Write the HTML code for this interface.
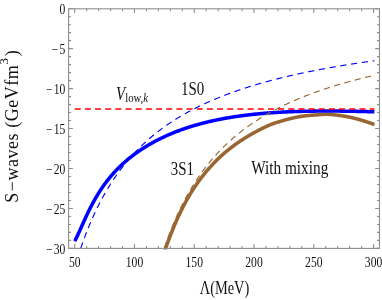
<!DOCTYPE html>
<html><head><meta charset="utf-8"><title>S-waves</title>
<style>html,body{margin:0;padding:0;background:#fff;}body{width:382px;height:300px;overflow:hidden;position:relative;font-family:"Liberation Serif",serif;}</style>
</head><body>
<svg width="382" height="300" viewBox="0 0 382 300" style="position:absolute;left:0;top:0;will-change:transform">
<defs><clipPath id="c"><rect x="68.6" y="8.8" width="310.85" height="240.80"/></clipPath></defs>
<g fill="none" clip-path="url(#c)">
<path d="M164.00,253.02 L164.42,251.80 L164.84,250.58 L165.26,249.37 L165.69,248.18 L166.11,246.99 L166.53,245.81 L166.95,244.63 L167.37,243.47 L167.79,242.32 L168.22,241.18 L168.64,240.04 L169.06,238.92 L169.48,237.80 L169.90,236.70 L170.32,235.60 L170.75,234.51 L171.17,233.44 L171.59,232.37 L172.01,231.31 L172.43,230.26 L172.85,229.22 L173.28,228.20 L173.70,227.18 L174.12,226.17 L174.54,225.17 L174.96,224.17 L175.38,223.19 L175.80,222.22 L176.23,221.26 L176.65,220.30 L177.07,219.36 L177.49,218.42 L177.91,217.50 L178.33,216.58 L178.76,215.67 L179.18,214.77 L179.60,213.88 L180.02,213.00 L180.44,212.13 L180.86,211.26 L181.29,210.40 L181.71,209.56 L182.13,208.72 L182.55,207.88 L182.97,207.06 L183.39,206.24 L183.81,205.44 L184.24,204.64 L184.66,203.84 L185.08,203.06 L185.50,202.28 L185.92,201.51 L186.34,200.75 L186.77,199.99 L187.19,199.25 L187.61,198.50 L188.03,197.77 L188.45,197.04 L188.87,196.32 L189.30,195.61 L189.72,194.90 L190.14,194.20 L190.56,193.51 L190.98,192.82 L191.40,192.14 L191.83,191.47 L192.25,190.80 L192.67,190.14 L193.09,189.48 L193.51,188.83 L193.93,188.19 L194.35,187.55 L194.78,186.91 L195.20,186.29 L195.62,185.67 L196.04,185.05 L196.46,184.44 L196.88,183.83 L197.31,183.23 L197.73,182.64 L198.15,182.05 L198.57,181.46 L198.99,180.88 L199.41,180.31 L199.84,179.73 L200.26,179.17 L200.68,178.61 L201.10,178.05 L201.52,177.50 L201.94,176.95 L202.36,176.41 L202.79,175.87 L203.21,175.34 L203.63,174.81 L204.05,174.28 L204.47,173.76 L204.89,173.24 L205.32,172.73 L205.74,172.22 L206.16,171.71 L206.58,171.21 L207.00,170.71 L207.42,170.22 L207.85,169.73 L208.27,169.24 L208.69,168.76 L209.11,168.28 L209.53,167.80 L209.95,167.33 L210.38,166.86 L210.80,166.39 L211.22,165.93 L211.64,165.47 L212.06,165.01 L212.48,164.56 L212.90,164.11 L213.33,163.66 L213.75,163.22 L214.17,162.78 L214.59,162.34 L215.01,161.91 L215.43,161.48 L215.86,161.05 L216.28,160.63 L216.70,160.21 L217.12,159.79 L217.54,159.38 L217.96,158.97 L218.39,158.56 L218.81,158.16 L219.23,157.76 L219.65,157.36 L220.07,156.96 L220.49,156.57 L220.92,156.18 L221.34,155.80 L221.76,155.42 L222.18,155.04 L222.60,154.66 L223.02,154.29 L223.44,153.92 L223.87,153.55 L224.29,153.18 L224.71,152.82 L225.13,152.46 L225.55,152.10 L225.97,151.75 L226.40,151.40 L226.82,151.05 L227.24,150.70 L227.66,150.35 L228.08,150.01 L228.50,149.67 L228.93,149.34 L229.35,149.00 L229.77,148.67 L230.19,148.34 L230.61,148.01 L231.03,147.69 L231.45,147.36 L231.88,147.04 L232.30,146.72 L232.72,146.41 L233.14,146.09 L233.56,145.78 L233.98,145.47 L234.41,145.16 L234.83,144.85 L235.25,144.55 L235.67,144.25 L236.09,143.95 L236.51,143.65 L236.94,143.35 L237.36,143.06 L237.78,142.77 L238.20,142.48 L238.62,142.19 L239.04,141.90 L239.47,141.62 L239.89,141.33 L240.31,141.05 L240.73,140.77 L241.15,140.49 L241.57,140.22 L241.99,139.94 L242.42,139.67 L242.84,139.40 L243.26,139.13 L243.68,138.86 L244.10,138.59 L244.52,138.33 L244.95,138.07 L245.37,137.80 L245.79,137.54 L246.21,137.29 L246.63,137.03 L247.05,136.77 L247.48,136.52 L247.90,136.27 L248.32,136.02 L248.74,135.77 L249.16,135.52 L249.58,135.27 L250.01,135.02 L250.43,134.78 L250.85,134.54 L251.27,134.30 L251.69,134.05 L252.11,133.82 L252.53,133.58 L252.96,133.34 L253.38,133.11 L253.80,132.87 L254.22,132.64 L254.64,132.41 L255.06,132.18 L255.49,131.95 L255.91,131.72 L256.33,131.49 L256.75,131.27 L257.17,131.04 L257.59,130.82 L258.02,130.60 L258.44,130.38 L258.86,130.15 L259.28,129.94 L259.70,129.72 L260.12,129.50 L260.54,129.28 L260.97,129.07 L261.39,128.86 L261.81,128.65 L262.23,128.44 L262.65,128.23 L263.07,128.02 L263.50,127.82 L263.92,127.62 L264.34,127.41 L264.76,127.22 L265.18,127.02 L265.60,126.82 L266.03,126.63 L266.45,126.43 L266.87,126.24 L267.29,126.05 L267.71,125.86 L268.13,125.68 L268.56,125.49 L268.98,125.31 L269.40,125.12 L269.82,124.94 L270.24,124.76 L270.66,124.59 L271.08,124.42 L271.51,124.25 L271.93,124.09 L272.35,123.93 L272.77,123.77 L273.19,123.62 L273.61,123.47 L274.04,123.32 L274.46,123.18 L274.88,123.04 L275.30,122.90 L275.72,122.76 L276.14,122.62 L276.57,122.49 L276.99,122.36 L277.41,122.23 L277.83,122.10 L278.25,121.98 L278.67,121.85 L279.09,121.73 L279.52,121.61 L279.94,121.48 L280.36,121.36 L280.78,121.24 L281.20,121.12 L281.62,121.00 L282.05,120.88 L282.47,120.76 L282.89,120.64 L283.31,120.52 L283.73,120.40 L284.15,120.28 L284.58,120.16 L285.00,120.03 L285.42,119.91 L285.84,119.79 L286.26,119.67 L286.68,119.55 L287.11,119.44 L287.53,119.32 L287.95,119.21 L288.37,119.09 L288.79,118.98 L289.21,118.87 L289.63,118.77 L290.06,118.66 L290.48,118.56 L290.90,118.45 L291.32,118.35 L291.74,118.25 L292.16,118.15 L292.59,118.06 L293.01,117.96 L293.43,117.87 L293.85,117.78 L294.27,117.68 L294.69,117.60 L295.12,117.51 L295.54,117.42 L295.96,117.34 L296.38,117.25 L296.80,117.17 L297.22,117.09 L297.65,117.01 L298.07,116.94 L298.49,116.86 L298.91,116.79 L299.33,116.71 L299.75,116.64 L300.17,116.57 L300.60,116.50 L301.02,116.44 L301.44,116.37 L301.86,116.31 L302.28,116.25 L302.70,116.19 L303.13,116.13 L303.55,116.07 L303.97,116.01 L304.39,115.96 L304.81,115.90 L305.23,115.85 L305.66,115.80 L306.08,115.75 L306.50,115.70 L306.92,115.66 L307.34,115.61 L307.76,115.57 L308.18,115.53 L308.61,115.49 L309.03,115.45 L309.45,115.41 L309.87,115.38 L310.29,115.34 L310.71,115.31 L311.14,115.28 L311.56,115.25 L311.98,115.22 L312.40,115.19 L312.82,115.16 L313.24,115.13 L313.67,115.10 L314.09,115.07 L314.51,115.03 L314.93,115.00 L315.35,114.96 L315.77,114.93 L316.20,114.89 L316.62,114.86 L317.04,114.82 L317.46,114.78 L317.88,114.75 L318.30,114.71 L318.72,114.68 L319.15,114.64 L319.57,114.61 L319.99,114.58 L320.41,114.55 L320.83,114.52 L321.25,114.49 L321.68,114.46 L322.10,114.44 L322.52,114.41 L322.94,114.39 L323.36,114.37 L323.78,114.35 L324.21,114.34 L324.63,114.32 L325.05,114.31 L325.47,114.31 L325.89,114.30 L326.31,114.30 L326.73,114.30 L327.16,114.30 L327.58,114.31 L328.00,114.32 L328.42,114.34 L328.84,114.36 L329.26,114.38 L329.69,114.41 L330.11,114.44 L330.53,114.47 L330.95,114.51 L331.37,114.54 L331.79,114.58 L332.22,114.62 L332.64,114.65 L333.06,114.69 L333.48,114.73 L333.90,114.78 L334.32,114.82 L334.75,114.86 L335.17,114.91 L335.59,114.96 L336.01,115.00 L336.43,115.05 L336.85,115.10 L337.27,115.15 L337.70,115.21 L338.12,115.26 L338.54,115.32 L338.96,115.37 L339.38,115.43 L339.80,115.49 L340.23,115.55 L340.65,115.61 L341.07,115.67 L341.49,115.73 L341.91,115.80 L342.33,115.86 L342.76,115.93 L343.18,116.00 L343.60,116.07 L344.02,116.14 L344.44,116.21 L344.86,116.29 L345.29,116.36 L345.71,116.44 L346.13,116.51 L346.55,116.59 L346.97,116.67 L347.39,116.75 L347.81,116.83 L348.24,116.92 L348.66,117.00 L349.08,117.09 L349.50,117.18 L349.92,117.26 L350.34,117.35 L350.77,117.45 L351.19,117.54 L351.61,117.63 L352.03,117.73 L352.45,117.82 L352.87,117.92 L353.30,118.02 L353.72,118.12 L354.14,118.22 L354.56,118.33 L354.98,118.43 L355.40,118.54 L355.82,118.64 L356.25,118.75 L356.67,118.86 L357.09,118.97 L357.51,119.08 L357.93,119.20 L358.35,119.31 L358.78,119.43 L359.20,119.55 L359.62,119.67 L360.04,119.79 L360.46,119.91 L360.88,120.03 L361.31,120.16 L361.73,120.28 L362.15,120.41 L362.57,120.54 L362.99,120.67 L363.41,120.80 L363.84,120.93 L364.26,121.06 L364.68,121.19 L365.10,121.33 L365.52,121.46 L365.94,121.60 L366.36,121.74 L366.79,121.88 L367.21,122.02 L367.63,122.16 L368.05,122.30 L368.47,122.44 L368.89,122.59 L369.32,122.73 L369.74,122.88 L370.16,123.03 L370.58,123.18 L371.00,123.33 L371.42,123.48 L371.85,123.63 L372.27,123.78 L372.69,123.94 L373.11,124.09 L373.53,124.25 L373.95,124.41 L374.38,124.56" stroke="rgb(153,102,51)" stroke-width="3.55"/>
<path d="M74.70,241.09 L75.30,239.98 L75.90,238.82 L76.50,237.62 L77.10,236.39 L77.70,235.12 L78.30,233.83 L78.90,232.52 L79.50,231.19 L80.10,229.86 L80.71,228.52 L81.31,227.17 L81.91,225.83 L82.51,224.48 L83.11,223.14 L83.71,221.81 L84.31,220.48 L84.91,219.17 L85.51,217.86 L86.11,216.57 L86.71,215.29 L87.31,214.02 L87.91,212.77 L88.51,211.53 L89.11,210.31 L89.71,209.10 L90.31,207.91 L90.91,206.73 L91.52,205.58 L92.12,204.43 L92.72,203.31 L93.32,202.20 L93.92,201.11 L94.52,200.03 L95.12,198.97 L95.72,197.93 L96.32,196.90 L96.92,195.89 L97.52,194.89 L98.12,193.91 L98.72,192.94 L99.32,191.99 L99.92,191.05 L100.52,190.13 L101.12,189.22 L101.72,188.33 L102.33,187.45 L102.93,186.58 L103.53,185.73 L104.13,184.89 L104.73,184.06 L105.33,183.24 L105.93,182.44 L106.53,181.65 L107.13,180.86 L107.73,180.10 L108.33,179.34 L108.93,178.59 L109.53,177.85 L110.13,177.13 L110.73,176.41 L111.33,175.70 L111.93,175.01 L112.53,174.32 L113.14,173.64 L113.74,172.97 L114.34,172.31 L114.94,171.66 L115.54,171.02 L116.14,170.39 L116.74,169.76 L117.34,169.14 L117.94,168.53 L118.54,167.93 L119.14,167.33 L119.74,166.75 L120.34,166.17 L120.94,165.59 L121.54,165.03 L122.14,164.47 L122.74,163.91 L123.34,163.37 L123.95,162.83 L124.55,162.29 L125.15,161.76 L125.75,161.24 L126.35,160.73 L126.95,160.22 L127.55,159.71 L128.15,159.21 L128.75,158.72 L129.35,158.23 L129.95,157.75 L130.55,157.27 L131.15,156.80 L131.75,156.33 L132.35,155.87 L132.95,155.41 L133.55,154.95 L134.15,154.51 L134.76,154.06 L135.36,153.62 L135.96,153.19 L136.56,152.76 L137.16,152.33 L137.76,151.91 L138.36,151.49 L138.96,151.08 L139.56,150.67 L140.16,150.26 L140.76,149.86 L141.36,149.46 L141.96,149.07 L142.56,148.68 L143.16,148.29 L143.76,147.91 L144.36,147.53 L144.96,147.15 L145.57,146.78 L146.17,146.41 L146.77,146.05 L147.37,145.69 L147.97,145.33 L148.57,144.97 L149.17,144.62 L149.77,144.27 L150.37,143.93 L150.97,143.59 L151.57,143.25 L152.17,142.91 L152.77,142.58 L153.37,142.25 L153.97,141.92 L154.57,141.60 L155.17,141.28 L155.77,140.96 L156.37,140.65 L156.98,140.33 L157.58,140.02 L158.18,139.72 L158.78,139.41 L159.38,139.11 L159.98,138.81 L160.58,138.52 L161.18,138.23 L161.78,137.93 L162.38,137.65 L162.98,137.36 L163.58,137.08 L164.18,136.80 L164.78,136.52 L165.38,136.25 L165.98,135.97 L166.58,135.70 L167.18,135.43 L167.79,135.17 L168.39,134.90 L168.99,134.64 L169.59,134.39 L170.19,134.13 L170.79,133.87 L171.39,133.62 L171.99,133.37 L172.59,133.13 L173.19,132.88 L173.79,132.64 L174.39,132.40 L174.99,132.16 L175.59,131.92 L176.19,131.69 L176.79,131.45 L177.39,131.22 L177.99,131.00 L178.60,130.77 L179.20,130.54 L179.80,130.32 L180.40,130.10 L181.00,129.88 L181.60,129.67 L182.20,129.45 L182.80,129.24 L183.40,129.03 L184.00,128.82 L184.60,128.61 L185.20,128.41 L185.80,128.21 L186.40,128.01 L187.00,127.81 L187.60,127.61 L188.20,127.41 L188.80,127.22 L189.41,127.03 L190.01,126.84 L190.61,126.65 L191.21,126.46 L191.81,126.27 L192.41,126.09 L193.01,125.91 L193.61,125.73 L194.21,125.55 L194.81,125.37 L195.41,125.20 L196.01,125.02 L196.61,124.85 L197.21,124.68 L197.81,124.51 L198.41,124.34 L199.01,124.18 L199.61,124.01 L200.22,123.85 L200.82,123.69 L201.42,123.53 L202.02,123.37 L202.62,123.21 L203.22,123.06 L203.82,122.91 L204.42,122.75 L205.02,122.60 L205.62,122.45 L206.22,122.30 L206.82,122.16 L207.42,122.01 L208.02,121.87 L208.62,121.73 L209.22,121.58 L209.82,121.44 L210.42,121.31 L211.03,121.17 L211.63,121.03 L212.23,120.90 L212.83,120.77 L213.43,120.63 L214.03,120.50 L214.63,120.37 L215.23,120.25 L215.83,120.12 L216.43,119.99 L217.03,119.87 L217.63,119.75 L218.23,119.63 L218.83,119.50 L219.43,119.39 L220.03,119.27 L220.63,119.15 L221.23,119.03 L221.84,118.92 L222.44,118.81 L223.04,118.69 L223.64,118.58 L224.24,118.47 L224.84,118.36 L225.44,118.26 L226.04,118.15 L226.64,118.04 L227.24,117.94 L227.84,117.84 L228.44,117.73 L229.04,117.63 L229.64,117.53 L230.24,117.43 L230.84,117.34 L231.44,117.24 L232.04,117.14 L232.64,117.05 L233.25,116.95 L233.85,116.86 L234.45,116.77 L235.05,116.68 L235.65,116.59 L236.25,116.50 L236.85,116.41 L237.45,116.33 L238.05,116.24 L238.65,116.15 L239.25,116.07 L239.85,115.99 L240.45,115.90 L241.05,115.82 L241.65,115.74 L242.25,115.66 L242.85,115.59 L243.45,115.51 L244.06,115.43 L244.66,115.35 L245.26,115.28 L245.86,115.21 L246.46,115.13 L247.06,115.06 L247.66,114.99 L248.26,114.92 L248.86,114.85 L249.46,114.78 L250.06,114.71 L250.66,114.64 L251.26,114.58 L251.86,114.51 L252.46,114.45 L253.06,114.38 L253.66,114.32 L254.26,114.26 L254.87,114.19 L255.47,114.13 L256.07,114.07 L256.67,114.01 L257.27,113.95 L257.87,113.90 L258.47,113.84 L259.07,113.78 L259.67,113.73 L260.27,113.67 L260.87,113.62 L261.47,113.56 L262.07,113.51 L262.67,113.46 L263.27,113.41 L263.87,113.36 L264.47,113.31 L265.07,113.26 L265.68,113.21 L266.28,113.16 L266.88,113.11 L267.48,113.07 L268.08,113.02 L268.68,112.97 L269.28,112.93 L269.88,112.89 L270.48,112.84 L271.08,112.80 L271.68,112.76 L272.28,112.72 L272.88,112.67 L273.48,112.63 L274.08,112.59 L274.68,112.56 L275.28,112.52 L275.88,112.48 L276.49,112.44 L277.09,112.40 L277.69,112.37 L278.29,112.33 L278.89,112.30 L279.49,112.26 L280.09,112.23 L280.69,112.20 L281.29,112.16 L281.89,112.13 L282.49,112.10 L283.09,112.07 L283.69,112.04 L284.29,112.01 L284.89,111.98 L285.49,111.95 L286.09,111.92 L286.69,111.89 L287.30,111.87 L287.90,111.84 L288.50,111.81 L289.10,111.79 L289.70,111.76 L290.30,111.74 L290.90,111.71 L291.50,111.69 L292.10,111.67 L292.70,111.64 L293.30,111.62 L293.90,111.60 L294.50,111.58 L295.10,111.56 L295.70,111.54 L296.30,111.52 L296.90,111.50 L297.50,111.48 L298.11,111.46 L298.71,111.44 L299.31,111.42 L299.91,111.41 L300.51,111.39 L301.11,111.37 L301.71,111.36 L302.31,111.34 L302.91,111.33 L303.51,111.31 L304.11,111.30 L304.71,111.28 L305.31,111.27 L305.91,111.26 L306.51,111.25 L307.11,111.23 L307.71,111.22 L308.31,111.21 L308.91,111.20 L309.52,111.19 L310.12,111.18 L310.72,111.17 L311.32,111.16 L311.92,111.15 L312.52,111.14 L313.12,111.13 L313.72,111.13 L314.32,111.12 L314.92,111.11 L315.52,111.10 L316.12,111.10 L316.72,111.09 L317.32,111.09 L317.92,111.08 L318.52,111.08 L319.12,111.07 L319.72,111.07 L320.33,111.06 L320.93,111.06 L321.53,111.06 L322.13,111.05 L322.73,111.05 L323.33,111.05 L323.93,111.05 L324.53,111.04 L325.13,111.04 L325.73,111.04 L326.33,111.04 L326.93,111.04 L327.53,111.04 L328.13,111.04 L328.73,111.04 L329.33,111.04 L329.93,111.04 L330.53,111.04 L331.14,111.05 L331.74,111.05 L332.34,111.05 L332.94,111.05 L333.54,111.06 L334.14,111.06 L334.74,111.06 L335.34,111.07 L335.94,111.07 L336.54,111.07 L337.14,111.08 L337.74,111.08 L338.34,111.09 L338.94,111.09 L339.54,111.10 L340.14,111.11 L340.74,111.11 L341.34,111.12 L341.95,111.13 L342.55,111.13 L343.15,111.14 L343.75,111.15 L344.35,111.16 L344.95,111.16 L345.55,111.17 L346.15,111.18 L346.75,111.19 L347.35,111.20 L347.95,111.21 L348.55,111.22 L349.15,111.23 L349.75,111.24 L350.35,111.25 L350.95,111.26 L351.55,111.27 L352.15,111.28 L352.76,111.29 L353.36,111.30 L353.96,111.31 L354.56,111.32 L355.16,111.34 L355.76,111.35 L356.36,111.36 L356.96,111.37 L357.56,111.39 L358.16,111.40 L358.76,111.41 L359.36,111.43 L359.96,111.44 L360.56,111.45 L361.16,111.47 L361.76,111.48 L362.36,111.50 L362.96,111.51 L363.57,111.52 L364.17,111.54 L364.77,111.56 L365.37,111.57 L365.97,111.59 L366.57,111.60 L367.17,111.62 L367.77,111.63 L368.37,111.65 L368.97,111.67 L369.57,111.68 L370.17,111.70 L370.77,111.72 L371.37,111.73 L371.97,111.75 L372.57,111.77 L373.17,111.79 L373.77,111.81 L374.38,111.82" stroke="rgb(0,0,255)" stroke-width="3.55"/>
<path d="M164.20,248.40 L164.62,247.16 L165.05,245.93 L165.47,244.71 L165.89,243.51 L166.31,242.32 L166.73,241.14 L167.15,239.97 L167.57,238.82 L167.99,237.67 L168.41,236.54 L168.84,235.42 L169.26,234.30 L169.68,233.20 L170.10,232.11 L170.52,231.04 L170.94,229.97 L171.36,228.91 L171.78,227.86 L172.21,226.82 L172.63,225.79 L173.05,224.77 L173.47,223.77 L173.89,222.77 L174.31,221.77 L174.73,220.79 L175.15,219.82 L175.58,218.86 L176.00,217.90 L176.42,216.96 L176.84,216.02 L177.26,215.09 L177.68,214.17 L178.10,213.25 L178.52,212.35 L178.94,211.45 L179.37,210.56 L179.79,209.68 L180.21,208.81 L180.63,207.94 L181.05,207.08 L181.47,206.23 L181.89,205.39 L182.31,204.55 L182.74,203.72 L183.16,202.90 L183.58,202.08 L184.00,201.28 L184.42,200.47 L184.84,199.68 L185.26,198.89 L185.68,198.11 L186.10,197.33 L186.53,196.56 L186.95,195.80 L187.37,195.04 L187.79,194.29 L188.21,193.54 L188.63,192.80 L189.05,192.07 L189.47,191.34 L189.90,190.62 L190.32,189.91 L190.74,189.20 L191.16,188.49 L191.58,187.79 L192.00,187.10 L192.42,186.41 L192.84,185.73 L193.26,185.05 L193.69,184.37 L194.11,183.71 L194.53,183.04 L194.95,182.39 L195.37,181.73 L195.79,181.09 L196.21,180.44 L196.63,179.80 L197.06,179.17 L197.48,178.54 L197.90,177.92 L198.32,177.30 L198.74,176.68 L199.16,176.07 L199.58,175.47 L200.00,174.86 L200.43,174.27 L200.85,173.67 L201.27,173.08 L201.69,172.50 L202.11,171.92 L202.53,171.34 L202.95,170.77 L203.37,170.20 L203.79,169.64 L204.22,169.08 L204.64,168.52 L205.06,167.97 L205.48,167.42 L205.90,166.87 L206.32,166.33 L206.74,165.79 L207.16,165.26 L207.59,164.73 L208.01,164.20 L208.43,163.68 L208.85,163.16 L209.27,162.64 L209.69,162.13 L210.11,161.62 L210.53,161.11 L210.95,160.61 L211.38,160.11 L211.80,159.61 L212.22,159.12 L212.64,158.63 L213.06,158.14 L213.48,157.66 L213.90,157.18 L214.32,156.70 L214.75,156.23 L215.17,155.76 L215.59,155.29 L216.01,154.82 L216.43,154.36 L216.85,153.90 L217.27,153.44 L217.69,152.99 L218.11,152.54 L218.54,152.09 L218.96,151.65 L219.38,151.20 L219.80,150.76 L220.22,150.33 L220.64,149.89 L221.06,149.46 L221.48,149.03 L221.91,148.61 L222.33,148.18 L222.75,147.76 L223.17,147.34 L223.59,146.93 L224.01,146.51 L224.43,146.10 L224.85,145.69 L225.28,145.29 L225.70,144.88 L226.12,144.48 L226.54,144.08 L226.96,143.68 L227.38,143.29 L227.80,142.90 L228.22,142.51 L228.64,142.12 L229.07,141.73 L229.49,141.35 L229.91,140.97 L230.33,140.59 L230.75,140.21 L231.17,139.84 L231.59,139.47 L232.01,139.10 L232.44,138.73 L232.86,138.36 L233.28,138.00 L233.70,137.63 L234.12,137.27 L234.54,136.92 L234.96,136.56 L235.38,136.21 L235.80,135.85 L236.23,135.50 L236.65,135.16 L237.07,134.81 L237.49,134.46 L237.91,134.12 L238.33,133.78 L238.75,133.44 L239.17,133.11 L239.60,132.77 L240.02,132.44 L240.44,132.10 L240.86,131.78 L241.28,131.45 L241.70,131.12 L242.12,130.80 L242.54,130.47 L242.96,130.15 L243.39,129.83 L243.81,129.51 L244.23,129.20 L244.65,128.88 L245.07,128.57 L245.49,128.26 L245.91,127.95 L246.33,127.64 L246.76,127.33 L247.18,127.03 L247.60,126.73 L248.02,126.42 L248.44,126.12 L248.86,125.83 L249.28,125.53 L249.70,125.23 L250.13,124.94 L250.55,124.65 L250.97,124.35 L251.39,124.06 L251.81,123.78 L252.23,123.49 L252.65,123.20 L253.07,122.92 L253.49,122.64 L253.92,122.36 L254.34,122.08 L254.76,121.80 L255.18,121.52 L255.60,121.24 L256.02,120.97 L256.44,120.70 L256.86,120.43 L257.29,120.15 L257.71,119.89 L258.13,119.62 L258.55,119.35 L258.97,119.09 L259.39,118.82 L259.81,118.56 L260.23,118.30 L260.65,118.04 L261.08,117.78 L261.50,117.52 L261.92,117.26 L262.34,117.01 L262.76,116.75 L263.18,116.50 L263.60,116.25 L264.02,116.00 L264.45,115.75 L264.87,115.50 L265.29,115.25 L265.71,115.01 L266.13,114.76 L266.55,114.52 L266.97,114.28 L267.39,114.03 L267.81,113.79 L268.24,113.55 L268.66,113.32 L269.08,113.08 L269.50,112.84 L269.92,112.61 L270.34,112.37 L270.76,112.14 L271.18,111.91 L271.61,111.68 L272.03,111.45 L272.45,111.22 L272.87,110.99 L273.29,110.77 L273.71,110.54 L274.13,110.31 L274.55,110.09 L274.98,109.87 L275.40,109.65 L275.82,109.43 L276.24,109.21 L276.66,108.99 L277.08,108.77 L277.50,108.55 L277.92,108.34 L278.34,108.12 L278.77,107.91 L279.19,107.69 L279.61,107.48 L280.03,107.27 L280.45,107.06 L280.87,106.85 L281.29,106.64 L281.71,106.43 L282.14,106.22 L282.56,106.02 L282.98,105.81 L283.40,105.61 L283.82,105.41 L284.24,105.20 L284.66,105.00 L285.08,104.80 L285.50,104.60 L285.93,104.40 L286.35,104.20 L286.77,104.00 L287.19,103.81 L287.61,103.61 L288.03,103.42 L288.45,103.22 L288.87,103.03 L289.30,102.83 L289.72,102.64 L290.14,102.45 L290.56,102.26 L290.98,102.07 L291.40,101.88 L291.82,101.69 L292.24,101.51 L292.66,101.32 L293.09,101.13 L293.51,100.95 L293.93,100.76 L294.35,100.58 L294.77,100.40 L295.19,100.22 L295.61,100.03 L296.03,99.85 L296.46,99.67 L296.88,99.49 L297.30,99.31 L297.72,99.14 L298.14,98.96 L298.56,98.78 L298.98,98.61 L299.40,98.43 L299.83,98.26 L300.25,98.08 L300.67,97.91 L301.09,97.74 L301.51,97.57 L301.93,97.39 L302.35,97.22 L302.77,97.05 L303.19,96.88 L303.62,96.72 L304.04,96.55 L304.46,96.38 L304.88,96.21 L305.30,96.05 L305.72,95.88 L306.14,95.72 L306.56,95.55 L306.99,95.39 L307.41,95.23 L307.83,95.06 L308.25,94.90 L308.67,94.74 L309.09,94.58 L309.51,94.42 L309.93,94.26 L310.35,94.10 L310.78,93.95 L311.20,93.79 L311.62,93.63 L312.04,93.47 L312.46,93.32 L312.88,93.16 L313.30,93.01 L313.72,92.85 L314.15,92.70 L314.57,92.55 L314.99,92.40 L315.41,92.24 L315.83,92.09 L316.25,91.94 L316.67,91.79 L317.09,91.64 L317.51,91.49 L317.94,91.34 L318.36,91.20 L318.78,91.05 L319.20,90.90 L319.62,90.75 L320.04,90.61 L320.46,90.46 L320.88,90.32 L321.31,90.17 L321.73,90.03 L322.15,89.89 L322.57,89.74 L322.99,89.60 L323.41,89.46 L323.83,89.32 L324.25,89.18 L324.68,89.04 L325.10,88.90 L325.52,88.76 L325.94,88.62 L326.36,88.48 L326.78,88.34 L327.20,88.20 L327.62,88.07 L328.04,87.93 L328.47,87.79 L328.89,87.66 L329.31,87.52 L329.73,87.39 L330.15,87.25 L330.57,87.12 L330.99,86.99 L331.41,86.85 L331.84,86.72 L332.26,86.59 L332.68,86.46 L333.10,86.33 L333.52,86.20 L333.94,86.07 L334.36,85.94 L334.78,85.81 L335.20,85.68 L335.63,85.55 L336.05,85.42 L336.47,85.29 L336.89,85.17 L337.31,85.04 L337.73,84.91 L338.15,84.79 L338.57,84.66 L339.00,84.54 L339.42,84.41 L339.84,84.29 L340.26,84.16 L340.68,84.04 L341.10,83.92 L341.52,83.80 L341.94,83.67 L342.36,83.55 L342.79,83.43 L343.21,83.31 L343.63,83.19 L344.05,83.07 L344.47,82.95 L344.89,82.83 L345.31,82.71 L345.73,82.59 L346.16,82.47 L346.58,82.35 L347.00,82.24 L347.42,82.12 L347.84,82.00 L348.26,81.89 L348.68,81.77 L349.10,81.65 L349.53,81.54 L349.95,81.42 L350.37,81.31 L350.79,81.19 L351.21,81.08 L351.63,80.97 L352.05,80.85 L352.47,80.74 L352.89,80.63 L353.32,80.52 L353.74,80.40 L354.16,80.29 L354.58,80.18 L355.00,80.07 L355.42,79.96 L355.84,79.85 L356.26,79.74 L356.69,79.63 L357.11,79.52 L357.53,79.41 L357.95,79.30 L358.37,79.20 L358.79,79.09 L359.21,78.98 L359.63,78.87 L360.05,78.77 L360.48,78.66 L360.90,78.55 L361.32,78.45 L361.74,78.34 L362.16,78.24 L362.58,78.13 L363.00,78.03 L363.42,77.92 L363.85,77.82 L364.27,77.72 L364.69,77.61 L365.11,77.51 L365.53,77.41 L365.95,77.30 L366.37,77.20 L366.79,77.10 L367.21,77.00 L367.64,76.90 L368.06,76.80 L368.48,76.70 L368.90,76.60 L369.32,76.50 L369.74,76.40 L370.16,76.30 L370.58,76.20 L371.01,76.10 L371.43,76.00 L371.85,75.90 L372.27,75.80 L372.69,75.71 L373.11,75.61 L373.53,75.51 L373.95,75.42 L374.38,75.32" stroke="rgb(153,102,51)" stroke-width="1.15" stroke-dasharray="6.2 4.5"/>
<path d="M80.69,248.40 L81.27,246.68 L81.86,244.98 L82.45,243.31 L83.04,241.66 L83.63,240.03 L84.22,238.43 L84.81,236.85 L85.39,235.29 L85.98,233.75 L86.57,232.23 L87.16,230.73 L87.75,229.26 L88.34,227.80 L88.93,226.36 L89.51,224.94 L90.10,223.54 L90.69,222.15 L91.28,220.79 L91.87,219.44 L92.46,218.11 L93.05,216.79 L93.63,215.49 L94.22,214.21 L94.81,212.95 L95.40,211.69 L95.99,210.46 L96.58,209.24 L97.17,208.03 L97.75,206.84 L98.34,205.66 L98.93,204.50 L99.52,203.35 L100.11,202.21 L100.70,201.09 L101.28,199.98 L101.87,198.88 L102.46,197.80 L103.05,196.72 L103.64,195.66 L104.23,194.61 L104.82,193.58 L105.40,192.55 L105.99,191.54 L106.58,190.53 L107.17,189.54 L107.76,188.56 L108.35,187.59 L108.94,186.63 L109.52,185.68 L110.11,184.74 L110.70,183.81 L111.29,182.89 L111.88,181.98 L112.47,181.08 L113.06,180.18 L113.64,179.30 L114.23,178.43 L114.82,177.56 L115.41,176.71 L116.00,175.86 L116.59,175.02 L117.18,174.19 L117.76,173.37 L118.35,172.55 L118.94,171.75 L119.53,170.95 L120.12,170.16 L120.71,169.38 L121.30,168.60 L121.88,167.83 L122.47,167.07 L123.06,166.32 L123.65,165.57 L124.24,164.83 L124.83,164.10 L125.42,163.38 L126.00,162.66 L126.59,161.95 L127.18,161.24 L127.77,160.54 L128.36,159.85 L128.95,159.16 L129.54,158.48 L130.12,157.81 L130.71,157.14 L131.30,156.48 L131.89,155.82 L132.48,155.17 L133.07,154.53 L133.66,153.89 L134.24,153.26 L134.83,152.63 L135.42,152.01 L136.01,151.39 L136.60,150.78 L137.19,150.17 L137.78,149.57 L138.36,148.97 L138.95,148.38 L139.54,147.80 L140.13,147.21 L140.72,146.64 L141.31,146.07 L141.90,145.50 L142.48,144.94 L143.07,144.38 L143.66,143.83 L144.25,143.28 L144.84,142.73 L145.43,142.19 L146.02,141.66 L146.60,141.13 L147.19,140.60 L147.78,140.08 L148.37,139.56 L148.96,139.04 L149.55,138.53 L150.14,138.03 L150.72,137.52 L151.31,137.02 L151.90,136.53 L152.49,136.04 L153.08,135.55 L153.67,135.07 L154.25,134.59 L154.84,134.11 L155.43,133.64 L156.02,133.17 L156.61,132.70 L157.20,132.24 L157.79,131.78 L158.37,131.33 L158.96,130.87 L159.55,130.43 L160.14,129.98 L160.73,129.54 L161.32,129.10 L161.91,128.66 L162.49,128.23 L163.08,127.80 L163.67,127.37 L164.26,126.95 L164.85,126.53 L165.44,126.11 L166.03,125.70 L166.61,125.29 L167.20,124.88 L167.79,124.47 L168.38,124.07 L168.97,123.67 L169.56,123.27 L170.15,122.88 L170.73,122.48 L171.32,122.10 L171.91,121.71 L172.50,121.32 L173.09,120.94 L173.68,120.56 L174.27,120.19 L174.85,119.81 L175.44,119.44 L176.03,119.07 L176.62,118.71 L177.21,118.34 L177.80,117.98 L178.39,117.62 L178.97,117.27 L179.56,116.91 L180.15,116.56 L180.74,116.21 L181.33,115.86 L181.92,115.52 L182.51,115.17 L183.09,114.83 L183.68,114.49 L184.27,114.16 L184.86,113.82 L185.45,113.49 L186.04,113.16 L186.63,112.83 L187.21,112.51 L187.80,112.18 L188.39,111.86 L188.98,111.54 L189.57,111.22 L190.16,110.90 L190.75,110.59 L191.33,110.28 L191.92,109.97 L192.51,109.66 L193.10,109.35 L193.69,109.05 L194.28,108.74 L194.87,108.44 L195.45,108.14 L196.04,107.85 L196.63,107.55 L197.22,107.26 L197.81,106.97 L198.40,106.67 L198.99,106.39 L199.57,106.10 L200.16,105.81 L200.75,105.53 L201.34,105.25 L201.93,104.97 L202.52,104.69 L203.11,104.41 L203.69,104.14 L204.28,103.86 L204.87,103.59 L205.46,103.32 L206.05,103.05 L206.64,102.78 L207.23,102.51 L207.81,102.25 L208.40,101.99 L208.99,101.72 L209.58,101.46 L210.17,101.21 L210.76,100.95 L211.34,100.69 L211.93,100.44 L212.52,100.18 L213.11,99.93 L213.70,99.68 L214.29,99.43 L214.88,99.18 L215.46,98.94 L216.05,98.69 L216.64,98.45 L217.23,98.21 L217.82,97.97 L218.41,97.73 L219.00,97.49 L219.58,97.25 L220.17,97.01 L220.76,96.78 L221.35,96.55 L221.94,96.31 L222.53,96.08 L223.12,95.85 L223.70,95.62 L224.29,95.40 L224.88,95.17 L225.47,94.95 L226.06,94.72 L226.65,94.50 L227.24,94.28 L227.82,94.06 L228.41,93.84 L229.00,93.62 L229.59,93.40 L230.18,93.19 L230.77,92.97 L231.36,92.76 L231.94,92.55 L232.53,92.33 L233.12,92.12 L233.71,91.91 L234.30,91.71 L234.89,91.50 L235.48,91.29 L236.06,91.09 L236.65,90.88 L237.24,90.68 L237.83,90.48 L238.42,90.28 L239.01,90.08 L239.60,89.88 L240.18,89.68 L240.77,89.48 L241.36,89.28 L241.95,89.09 L242.54,88.89 L243.13,88.70 L243.72,88.51 L244.30,88.32 L244.89,88.13 L245.48,87.94 L246.07,87.75 L246.66,87.56 L247.25,87.37 L247.84,87.18 L248.42,87.00 L249.01,86.81 L249.60,86.63 L250.19,86.45 L250.78,86.27 L251.37,86.09 L251.96,85.90 L252.54,85.73 L253.13,85.55 L253.72,85.37 L254.31,85.19 L254.90,85.02 L255.49,84.84 L256.08,84.67 L256.66,84.49 L257.25,84.32 L257.84,84.15 L258.43,83.98 L259.02,83.81 L259.61,83.64 L260.20,83.47 L260.78,83.30 L261.37,83.13 L261.96,82.96 L262.55,82.80 L263.14,82.63 L263.73,82.47 L264.31,82.30 L264.90,82.14 L265.49,81.98 L266.08,81.82 L266.67,81.66 L267.26,81.50 L267.85,81.34 L268.43,81.18 L269.02,81.02 L269.61,80.86 L270.20,80.70 L270.79,80.55 L271.38,80.39 L271.97,80.24 L272.55,80.08 L273.14,79.93 L273.73,79.78 L274.32,79.63 L274.91,79.47 L275.50,79.32 L276.09,79.17 L276.67,79.02 L277.26,78.88 L277.85,78.73 L278.44,78.58 L279.03,78.43 L279.62,78.29 L280.21,78.14 L280.79,77.99 L281.38,77.85 L281.97,77.71 L282.56,77.56 L283.15,77.42 L283.74,77.28 L284.33,77.14 L284.91,77.00 L285.50,76.85 L286.09,76.71 L286.68,76.58 L287.27,76.44 L287.86,76.30 L288.45,76.16 L289.03,76.02 L289.62,75.89 L290.21,75.75 L290.80,75.62 L291.39,75.48 L291.98,75.35 L292.57,75.21 L293.15,75.08 L293.74,74.95 L294.33,74.82 L294.92,74.68 L295.51,74.55 L296.10,74.42 L296.69,74.29 L297.27,74.16 L297.86,74.03 L298.45,73.90 L299.04,73.78 L299.63,73.65 L300.22,73.52 L300.81,73.40 L301.39,73.27 L301.98,73.14 L302.57,73.02 L303.16,72.89 L303.75,72.77 L304.34,72.65 L304.93,72.52 L305.51,72.40 L306.10,72.28 L306.69,72.16 L307.28,72.04 L307.87,71.91 L308.46,71.79 L309.05,71.67 L309.63,71.55 L310.22,71.44 L310.81,71.32 L311.40,71.20 L311.99,71.08 L312.58,70.96 L313.17,70.85 L313.75,70.73 L314.34,70.62 L314.93,70.50 L315.52,70.39 L316.11,70.27 L316.70,70.16 L317.29,70.04 L317.87,69.93 L318.46,69.82 L319.05,69.70 L319.64,69.59 L320.23,69.48 L320.82,69.37 L321.40,69.26 L321.99,69.15 L322.58,69.04 L323.17,68.93 L323.76,68.82 L324.35,68.71 L324.94,68.60 L325.52,68.49 L326.11,68.39 L326.70,68.28 L327.29,68.17 L327.88,68.06 L328.47,67.96 L329.06,67.85 L329.64,67.75 L330.23,67.64 L330.82,67.54 L331.41,67.43 L332.00,67.33 L332.59,67.23 L333.18,67.12 L333.76,67.02 L334.35,66.92 L334.94,66.82 L335.53,66.71 L336.12,66.61 L336.71,66.51 L337.30,66.41 L337.88,66.31 L338.47,66.21 L339.06,66.11 L339.65,66.01 L340.24,65.91 L340.83,65.81 L341.42,65.72 L342.00,65.62 L342.59,65.52 L343.18,65.42 L343.77,65.33 L344.36,65.23 L344.95,65.13 L345.54,65.04 L346.12,64.94 L346.71,64.85 L347.30,64.75 L347.89,64.66 L348.48,64.56 L349.07,64.47 L349.66,64.37 L350.24,64.28 L350.83,64.19 L351.42,64.10 L352.01,64.00 L352.60,63.91 L353.19,63.82 L353.78,63.73 L354.36,63.64 L354.95,63.55 L355.54,63.45 L356.13,63.36 L356.72,63.27 L357.31,63.18 L357.90,63.10 L358.48,63.01 L359.07,62.92 L359.66,62.83 L360.25,62.74 L360.84,62.65 L361.43,62.56 L362.02,62.48 L362.60,62.39 L363.19,62.30 L363.78,62.22 L364.37,62.13 L364.96,62.04 L365.55,61.96 L366.14,61.87 L366.72,61.79 L367.31,61.70 L367.90,61.62 L368.49,61.53 L369.08,61.45 L369.67,61.37 L370.26,61.28 L370.84,61.20 L371.43,61.12 L372.02,61.03 L372.61,60.95 L373.20,60.87 L373.79,60.79 L374.38,60.71" stroke="rgb(0,0,255)" stroke-width="1.15" stroke-dasharray="6.2 4.7"/>
<path d="M74.70,109 L374.38,109" stroke="rgb(255,0,0)" stroke-width="1.4" stroke-dasharray="6.0 4.17"/>
</g>
<g stroke="#8e8e8e" stroke-width="1.1" fill="none">
<rect x="68.6" y="8.8" width="310.85" height="239.60"/>
<path d="M74.70,248.4 v-4.3 M74.70,8.8 v4.3 M86.66,248.4 v-2.5 M86.66,8.8 v2.5 M98.61,248.4 v-2.5 M98.61,8.8 v2.5 M110.56,248.4 v-2.5 M110.56,8.8 v2.5 M122.52,248.4 v-2.5 M122.52,8.8 v2.5 M134.47,248.4 v-4.3 M134.47,8.8 v4.3 M146.43,248.4 v-2.5 M146.43,8.8 v2.5 M158.38,248.4 v-2.5 M158.38,8.8 v2.5 M170.34,248.4 v-2.5 M170.34,8.8 v2.5 M182.30,248.4 v-2.5 M182.30,8.8 v2.5 M194.25,248.4 v-4.3 M194.25,8.8 v4.3 M206.20,248.4 v-2.5 M206.20,8.8 v2.5 M218.16,248.4 v-2.5 M218.16,8.8 v2.5 M230.12,248.4 v-2.5 M230.12,8.8 v2.5 M242.07,248.4 v-2.5 M242.07,8.8 v2.5 M254.02,248.4 v-4.3 M254.02,8.8 v4.3 M265.98,248.4 v-2.5 M265.98,8.8 v2.5 M277.94,248.4 v-2.5 M277.94,8.8 v2.5 M289.89,248.4 v-2.5 M289.89,8.8 v2.5 M301.85,248.4 v-2.5 M301.85,8.8 v2.5 M313.80,248.4 v-4.3 M313.80,8.8 v4.3 M325.75,248.4 v-2.5 M325.75,8.8 v2.5 M337.71,248.4 v-2.5 M337.71,8.8 v2.5 M349.66,248.4 v-2.5 M349.66,8.8 v2.5 M361.62,248.4 v-2.5 M361.62,8.8 v2.5 M373.57,248.4 v-4.3 M373.57,8.8 v4.3 M68.6,8.70 h4.3 M379.45,8.70 h-4.3 M68.6,16.69 h2.5 M379.45,16.69 h-2.5 M68.6,24.68 h2.5 M379.45,24.68 h-2.5 M68.6,32.67 h2.5 M379.45,32.67 h-2.5 M68.6,40.66 h2.5 M379.45,40.66 h-2.5 M68.6,48.65 h4.3 M379.45,48.65 h-4.3 M68.6,56.64 h2.5 M379.45,56.64 h-2.5 M68.6,64.63 h2.5 M379.45,64.63 h-2.5 M68.6,72.62 h2.5 M379.45,72.62 h-2.5 M68.6,80.61 h2.5 M379.45,80.61 h-2.5 M68.6,88.60 h4.3 M379.45,88.60 h-4.3 M68.6,96.59 h2.5 M379.45,96.59 h-2.5 M68.6,104.58 h2.5 M379.45,104.58 h-2.5 M68.6,112.57 h2.5 M379.45,112.57 h-2.5 M68.6,120.56 h2.5 M379.45,120.56 h-2.5 M68.6,128.55 h4.3 M379.45,128.55 h-4.3 M68.6,136.54 h2.5 M379.45,136.54 h-2.5 M68.6,144.53 h2.5 M379.45,144.53 h-2.5 M68.6,152.52 h2.5 M379.45,152.52 h-2.5 M68.6,160.51 h2.5 M379.45,160.51 h-2.5 M68.6,168.50 h4.3 M379.45,168.50 h-4.3 M68.6,176.49 h2.5 M379.45,176.49 h-2.5 M68.6,184.48 h2.5 M379.45,184.48 h-2.5 M68.6,192.47 h2.5 M379.45,192.47 h-2.5 M68.6,200.46 h2.5 M379.45,200.46 h-2.5 M68.6,208.45 h4.3 M379.45,208.45 h-4.3 M68.6,216.44 h2.5 M379.45,216.44 h-2.5 M68.6,224.43 h2.5 M379.45,224.43 h-2.5 M68.6,232.42 h2.5 M379.45,232.42 h-2.5 M68.6,240.41 h2.5 M379.45,240.41 h-2.5 M68.6,248.40 h4.3 M379.45,248.40 h-4.3"/>
</g>
<g font-family="Liberation Serif, serif" fill="#111">
<text transform="translate(65.40,14.00) scale(0.83,1)" font-size="14" text-anchor="end" >0</text>
<text transform="translate(65.40,53.95) scale(0.83,1)" font-size="14" text-anchor="end" >−<tspan dx="1.5">5</tspan></text>
<text transform="translate(65.40,93.90) scale(0.83,1)" font-size="14" text-anchor="end" >−<tspan dx="1.5">10</tspan></text>
<text transform="translate(65.40,133.85) scale(0.83,1)" font-size="14" text-anchor="end" >−<tspan dx="1.5">15</tspan></text>
<text transform="translate(65.40,173.80) scale(0.83,1)" font-size="14" text-anchor="end" >−<tspan dx="1.5">20</tspan></text>
<text transform="translate(65.40,213.75) scale(0.83,1)" font-size="14" text-anchor="end" >−<tspan dx="1.5">25</tspan></text>
<text transform="translate(65.40,253.70) scale(0.83,1)" font-size="14" text-anchor="end" >−<tspan dx="1.5">30</tspan></text>
<text transform="translate(74.70,266.50) scale(0.83,1)" font-size="14" text-anchor="middle" >50</text>
<text transform="translate(134.47,266.50) scale(0.83,1)" font-size="14" text-anchor="middle" >100</text>
<text transform="translate(194.25,266.50) scale(0.83,1)" font-size="14" text-anchor="middle" >150</text>
<text transform="translate(254.02,266.50) scale(0.83,1)" font-size="14" text-anchor="middle" >200</text>
<text transform="translate(313.80,266.50) scale(0.83,1)" font-size="14" text-anchor="middle" >250</text>
<text transform="translate(373.57,266.50) scale(0.83,1)" font-size="14" text-anchor="middle" >300</text>
<text transform="translate(224.50,294.00) scale(0.8,1)" font-size="18" text-anchor="middle" >Λ(MeV)</text>
<text transform="translate(116.00,99.60) scale(0.83,1)" font-size="18" text-anchor="start" ><tspan font-style="italic">V</tspan><tspan font-size="13" dy="2">low,<tspan font-style="italic">k</tspan></tspan></text>
<text transform="translate(181.10,94.80) scale(0.83,1)" font-size="18" text-anchor="start" >1S0</text>
<text transform="translate(170.80,175.40) scale(0.83,1)" font-size="18" text-anchor="start" >3S1</text>
<text transform="translate(251.20,173.50) scale(0.85,1)" font-size="18" text-anchor="start" >With mixing</text>
<text transform="translate(18.2,126.2) rotate(-90)" font-size="18" text-anchor="middle" letter-spacing="0.52">S<tspan dx="0.5">−</tspan><tspan dx="0.5">waves (GeVfm</tspan><tspan font-size="13.5" dy="-10.2">3</tspan><tspan dy="10.2" dx="1.2">)</tspan></text>
</g>
</svg>
</body></html>
